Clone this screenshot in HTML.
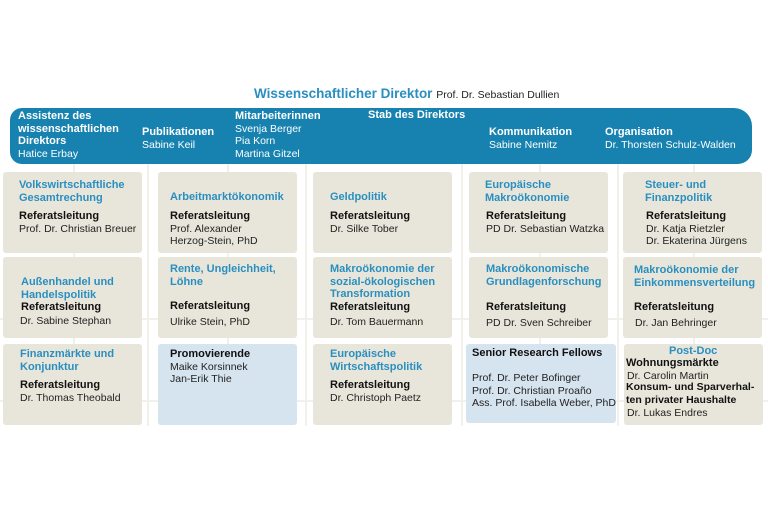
<!DOCTYPE html>
<html><head><meta charset="utf-8"><style>
body{margin:0;width:768px;height:512px;background:#fff;font-family:"Liberation Sans",sans-serif;position:relative;overflow:hidden}
.a{position:absolute}
.b{position:absolute;background:#e8e6da;border-radius:3px}
.c{background:#d6e4ef}
.t{position:absolute;font-size:10.5px;line-height:12.5px;color:#222;white-space:nowrap}
.h{color:#2a8fc0;font-weight:bold;font-size:11px}
.k{font-weight:bold;color:#111;font-size:11px}
.w{color:#fff}.wb{color:#fff;font-weight:bold;font-size:11px}
.l{position:absolute;background:#f1f0ea}
</style></head><body>
<div class="t" style="left:254px;top:88px;font-size:13.5px"><span class="h" style="font-size:13.5px">Wissenschaftlicher Direktor</span> <span style="font-size:10.5px">Prof. Dr. Sebastian Dullien</span></div>
<div class="a" style="left:10px;top:108px;width:742px;height:56px;background:#1782b0;border-radius:12px 18px 14px 12px"></div>
<div class="t" style="left:18px;top:110px"><span class="wb">Assistenz des<br>wissenschaftlichen<br>Direktors</span><br><span class="w">Hatice Erbay</span></div>
<div class="t" style="left:142px;top:126px"><span class="wb">Publikationen</span><br><span class="w">Sabine Keil</span></div>
<div class="t" style="left:235px;top:110px"><span class="wb">Mitarbeiterinnen</span><br><span class="w">Svenja Berger<br>Pia Korn<br>Martina Gitzel</span></div>
<div class="t" style="left:368px;top:109px"><span class="wb">Stab des Direktors</span></div>
<div class="t" style="left:489px;top:126px"><span class="wb">Kommunikation</span><br><span class="w">Sabine Nemitz</span></div>
<div class="t" style="left:605px;top:126px"><span class="wb">Organisation</span><br><span class="w">Dr. Thorsten Schulz-Walden</span></div>
<!-- connectors -->
<div class="l" style="left:147px;top:164px;width:2px;height:262px"></div>
<div class="l" style="left:305px;top:164px;width:2px;height:262px"></div>
<div class="l" style="left:461px;top:164px;width:2px;height:262px"></div>
<div class="l" style="left:617px;top:164px;width:2px;height:262px"></div>
<div class="l" style="left:0;top:318px;width:768px;height:2px"></div>
<div class="l" style="left:0;top:400px;width:768px;height:2px"></div>
<div class="l" style="left:73px;top:164px;width:2px;height:180px"></div>
<div class="l" style="left:227px;top:164px;width:2px;height:180px"></div>
<div class="l" style="left:539px;top:164px;width:2px;height:180px"></div>
<div class="l" style="left:693px;top:164px;width:2px;height:180px"></div>
<!-- row1 -->
<div class="b" style="left:3px;top:172px;width:139px;height:81px"></div>
<div class="b" style="left:158px;top:172px;width:139px;height:81px"></div>
<div class="b" style="left:313px;top:172px;width:139px;height:81px"></div>
<div class="b" style="left:469px;top:172px;width:139px;height:81px"></div>
<div class="b" style="left:623px;top:172px;width:139px;height:81px"></div>
<div class="t" style="left:19px;top:179px"><span class="h">Volkswirtschaftliche<br>Gesamtrechung</span></div>
<div class="t" style="left:19px;top:210px"><span class="k">Referatsleitung</span><br>Prof. Dr. Christian Breuer</div>
<div class="t" style="left:170px;top:191px"><span class="h">Arbeitmarktökonomik</span></div>
<div class="t" style="left:170px;top:210px"><span class="k">Referatsleitung</span><br>Prof. Alexander<br>Herzog-Stein, PhD</div>
<div class="t" style="left:330px;top:191px"><span class="h">Geldpolitik</span></div>
<div class="t" style="left:330px;top:210px"><span class="k">Referatsleitung</span><br>Dr. Silke Tober</div>
<div class="t" style="left:485px;top:179px"><span class="h">Europäische<br>Makroökonomie</span></div>
<div class="t" style="left:486px;top:210px"><span class="k">Referatsleitung</span><br>PD Dr. Sebastian Watzka</div>
<div class="t" style="left:645px;top:179px"><span class="h">Steuer- und<br>Finanzpolitik</span></div>
<div class="t" style="left:646px;top:210px"><span class="k">Referatsleitung</span><br>Dr. Katja Rietzler<br>Dr. Ekaterina Jürgens</div>
<!-- row2 -->
<div class="b" style="left:3px;top:257px;width:139px;height:81px"></div>
<div class="b" style="left:158px;top:257px;width:139px;height:81px"></div>
<div class="b" style="left:313px;top:257px;width:139px;height:81px"></div>
<div class="b" style="left:469px;top:257px;width:139px;height:81px"></div>
<div class="b" style="left:623px;top:257px;width:139px;height:81px"></div>
<div class="t" style="left:21px;top:276px"><span class="h">Außenhandel und<br>Handelspolitik</span><br><span class="k">Referatsleitung</span></div>
<div class="t" style="left:20px;top:315px">Dr. Sabine Stephan</div>
<div class="t" style="left:170px;top:263px"><span class="h">Rente, Ungleichheit,<br>Löhne</span></div>
<div class="t" style="left:170px;top:300px"><span class="k">Referatsleitung</span></div>
<div class="t" style="left:170px;top:316px">Ulrike Stein, PhD</div>
<div class="t" style="left:330px;top:263px"><span class="h">Makroökonomie der<br>sozial-ökologischen<br>Transformation</span><br><span class="k">Referatsleitung</span></div>
<div class="t" style="left:330px;top:316px">Dr. Tom Bauermann</div>
<div class="t" style="left:486px;top:263px"><span class="h">Makroökonomische<br>Grundlagenforschung</span></div>
<div class="t" style="left:486px;top:301px"><span class="k">Referatsleitung</span></div>
<div class="t" style="left:486px;top:317px">PD Dr. Sven Schreiber</div>
<div class="t" style="left:634px;top:264px"><span class="h">Makroökonomie der<br>Einkommensverteilung</span></div>
<div class="t" style="left:634px;top:301px"><span class="k">Referatsleitung</span></div>
<div class="t" style="left:635px;top:317px">Dr. Jan Behringer</div>
<!-- row3 -->
<div class="b" style="left:3px;top:344px;width:139px;height:81px"></div>
<div class="b c" style="left:158px;top:344px;width:139px;height:81px"></div>
<div class="b" style="left:313px;top:344px;width:139px;height:81px"></div>
<div class="b c" style="left:466px;top:344px;width:150px;height:79px"></div>
<div class="b" style="left:624px;top:344px;width:139px;height:81px"></div>
<div class="t" style="left:20px;top:348px"><span class="h">Finanzmärkte und<br>Konjunktur</span></div>
<div class="t" style="left:20px;top:379px"><span class="k">Referatsleitung</span><br>Dr. Thomas Theobald</div>
<div class="t" style="left:170px;top:348px"><span class="k">Promovierende</span><br>Maike Korsinnek<br>Jan-Erik Thie</div>
<div class="t" style="left:330px;top:348px"><span class="h">Europäische<br>Wirtschaftspolitik</span></div>
<div class="t" style="left:330px;top:379px"><span class="k">Referatsleitung</span><br>Dr. Christoph Paetz</div>
<div class="t" style="left:472px;top:347px"><span class="k">Senior Research Fellows</span></div>
<div class="t" style="left:472px;top:372px">Prof. Dr. Peter Bofinger<br>Prof. Dr. Christian Proaño<br>Ass. Prof. Isabella Weber, PhD</div>
<div class="t" style="left:669px;top:345px"><span class="h">Post-Doc</span></div>
<div class="t" style="left:626px;top:357px"><span class="k">Wohnungsmärkte</span></div>
<div class="t" style="left:627px;top:370px">Dr. Carolin Martin</div>
<div class="t" style="left:626px;top:381px"><span class="k" style="font-size:10.5px">Konsum- und Sparverhal-<br>ten privater Haushalte</span></div>
<div class="t" style="left:627px;top:407px">Dr. Lukas Endres</div>
</body></html>
